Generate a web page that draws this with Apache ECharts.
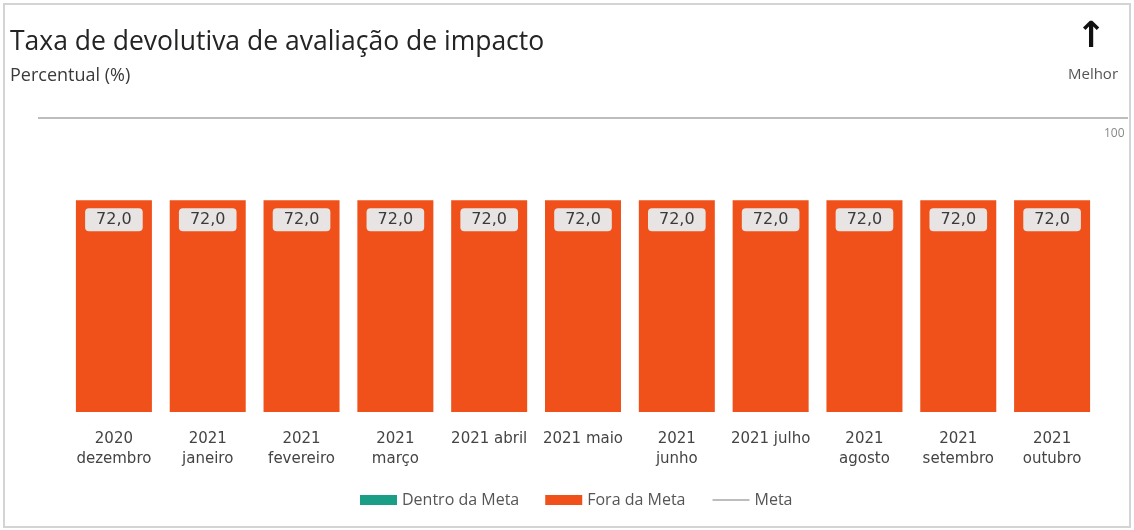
<!DOCTYPE html>
<html>
<head>
<meta charset="utf-8">
<script src="https://cdn.jsdelivr.net/npm/echarts@6/dist/echarts.min.js"></script>
<style>
  html, body { margin: 0; padding: 0; background: #fff; }
  #chart { width: 1134px; height: 530px; }
</style>
</head>
<body>
<div id="chart"></div>
<script>
// categorias (mês de referência)
var months = ['2020\ndezembro', '2021\njaneiro', '2021\nfevereiro', '2021\nmarço', '2021 abril',
  '2021 maio', '2021\njunho', '2021 julho', '2021\nagosto', '2021\nsetembro', '2021\noutubro'];
// valores
var dentroMeta = ['-', '-', '-', '-', '-', '-', '-', '-', '-', '-', '-'];
var foraMeta = [72, 72, 72, 72, 72, 72, 72, 72, 72, 72, 72];
var metaValue = 100;
var yTicks = [0, 100];

var teal = '#1a9e86';
var orange = '#f0501a';
var metaColor = '#bdbdbd';

var fmt = function (v) {
  return Number(v).toFixed(1).replace('.', ',');
};

var chart = echarts.init(document.getElementById('chart'));
chart.setOption({
  animation: false,
  title: [
    {
      text: 'Taxa de devolutiva de avaliação de impacto',
      subtext: 'Percentual (%)',
      left: 5, top: 24,
      itemGap: 11,
      textStyle: { fontFamily: 'Open Sans', fontSize: 26.5, fontWeight: 'normal', color: '#252423' },
      subtextStyle: { fontFamily: 'Open Sans', fontSize: 18, color: '#3a3a3a' }
    }
  ],
  graphic: [
    {
      type: 'rect',
      shape: { x: 4, y: 4, width: 1126, height: 523 },
      style: { fill: 'none', stroke: '#d4d4d4', lineWidth: 2 },
      silent: true
    },
    {
      type: 'text', x: 1091, y: 20, silent: true,
      style: { text: '↑', align: 'center', font: 'bold 36px "DejaVu Sans"', fill: '#111' }
    },
    {
      type: 'text', x: 1093, y: 67, silent: true,
      style: { text: 'Melhor', align: 'center', font: '15px "Open Sans"', fill: '#555' }
    }
  ],
  legend: {
    left: 355, top: 487,
    itemWidth: 37, itemHeight: 10, itemGap: 26,
    textStyle: { fontFamily: 'Open Sans', fontSize: 16, color: '#555' },
    data: [
      { name: 'Dentro da Meta', icon: 'rect' },
      { name: 'Fora da Meta', icon: 'rect' },
      { name: 'Meta', itemStyle: { opacity: 0 } }
    ]
  },
  grid: [
    { left: 67, right: 35, top: 118, bottom: 118 },
    { left: 38, right: 6, top: 118, bottom: 118 }
  ],
  xAxis: [
    {
      type: 'category', gridIndex: 0, data: months,
      axisLine: { show: false }, axisTick: { show: false },
      axisLabel: {
        margin: 17, interval: 0, lineHeight: 20,
        fontFamily: 'DejaVu Sans', fontSize: 15, color: '#444', verticalAlign: 'top'
      }
    },
    { type: 'value', gridIndex: 1, min: 0, max: 1, show: false }
  ],
  yAxis: [
    { type: 'value', gridIndex: 0, min: yTicks[0], max: yTicks[1], show: false },
    { type: 'value', gridIndex: 1, min: yTicks[0], max: yTicks[1], show: false }
  ],
  series: [
    {
      name: 'Dentro da Meta', type: 'bar', stack: 'v', barWidth: 76,
      itemStyle: { color: teal },
      data: dentroMeta
    },
    {
      name: 'Fora da Meta', type: 'bar', stack: 'v', barWidth: 76,
      itemStyle: { color: orange },
      label: {
        show: true, position: 'insideTop', distance: 8,
        formatter: function (p) { return fmt(p.value); },
        fontFamily: 'DejaVu Sans', fontSize: 16, color: '#3a3a3a',
        backgroundColor: '#e8e4e3', borderRadius: 4, padding: [4, 11, 3, 11]
      },
      data: foraMeta
    },
    {
      name: 'Meta', type: 'line', xAxisIndex: 1, yAxisIndex: 1,
      symbol: 'none', silent: true,
      lineStyle: { color: metaColor, width: 2 },
      itemStyle: { color: metaColor },
      endLabel: {
        show: true, formatter: String(metaValue), offset: [-32, 16],
        fontFamily: 'Open Sans', fontSize: 12, color: '#888'
      },
      data: [[0, metaValue], [1, metaValue]]
    }
  ]
});
</script>
</body>
</html>
